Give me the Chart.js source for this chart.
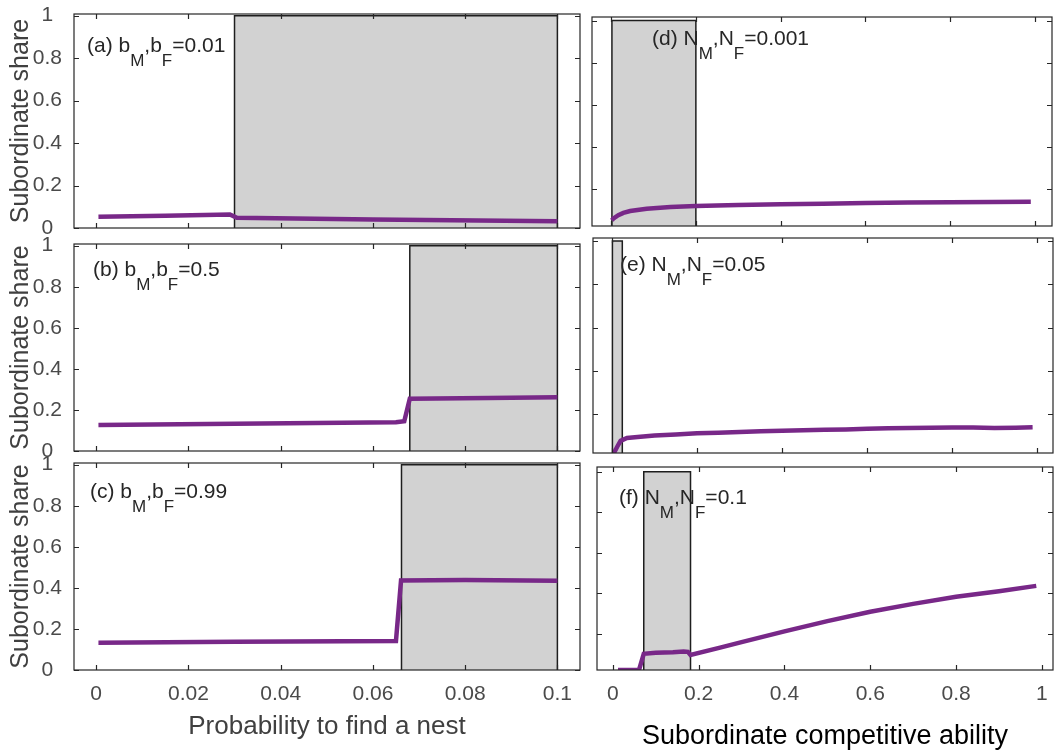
<!DOCTYPE html>
<html>
<head>
<meta charset="utf-8">
<script src="https://cdn.jsdelivr.net/npm/chart.js@4.4.1/dist/chart.umd.min.js"></script>
<style>
  html, body { margin: 0; padding: 0; background: #fff; overflow: hidden; }
  #wrap { position: relative; width: 1054px; height: 754px; overflow: hidden; }
  #wrap canvas { position: absolute; }
</style>
</head>
<body>
<div id="wrap"></div>
<script>
// subordinate share vs probability to find a nest (b_M = b_F fixed)
const nestProbA = [0.0005, 0.015, 0.029, 0.0305, 0.06, 0.1];
const shareA    = [0.053, 0.058, 0.064, 0.048, 0.040, 0.032];
const nestProbB = [0.0005, 0.03, 0.065, 0.0668, 0.068, 0.085, 0.1];
const shareB    = [0.127, 0.133, 0.140, 0.145, 0.255, 0.258, 0.262];
const nestProbC = [0.0005, 0.03, 0.065, 0.0661, 0.08, 0.1];
const shareC    = [0.133, 0.137, 0.141, 0.436, 0.438, 0.435];

// subordinate share vs subordinate competitive ability (N_M = N_F fixed)
const abilityD = [0.002, 0.005, 0.017, 0.029, 0.045, 0.084, 0.14, 0.2, 0.3, 0.4, 0.5, 0.6, 0.7, 0.8, 0.9, 0.99];
const shareD   = [0.053, 0.061, 0.077, 0.088, 0.097, 0.108, 0.116, 0.121, 0.126, 0.129, 0.132, 0.135, 0.137, 0.139, 0.140, 0.141];
const abilityE = [0.004, 0.012, 0.02, 0.035, 0.06, 0.1, 0.15, 0.2, 0.25, 0.3, 0.35, 0.4, 0.45, 0.5, 0.55, 0.6, 0.65, 0.7, 0.75, 0.8, 0.85, 0.9, 0.95, 0.99];
const shareE   = [0.02, 0.05, 0.077, 0.09, 0.095, 0.102, 0.107, 0.112, 0.115, 0.118, 0.121, 0.124, 0.126, 0.128, 0.130, 0.133, 0.135, 0.137, 0.138, 0.139, 0.139, 0.137, 0.138, 0.140];
const abilityF = [0.012, 0.061, 0.072, 0.1, 0.14, 0.165, 0.175, 0.181, 0.25, 0.3, 0.4, 0.5, 0.6, 0.7, 0.8, 0.9, 0.987];
const shareF   = [0.02, 0.02, 0.10, 0.105, 0.108, 0.112, 0.11, 0.094, 0.131, 0.158, 0.211, 0.262, 0.308, 0.347, 0.382, 0.41, 0.436];

// shaded ranges (a)..(f)
const shadeFrom = [0.03, 0.068, 0.0662, 0.002, 0.0007, 0.072];
const shadeTo   = [0.1, 0.1, 0.1, 0.2, 0.024, 0.181];
const shadeTop  = 1;

// panel tags
const panelTag   = ['(a)', '(b)', '(c)', '(d)', '(e)', '(f)'];
const paramName  = ['b', 'b', 'b', 'N', 'N', 'N'];
const paramValue = ['0.01', '0.5', '0.99', '0.001', '0.05', '0.1'];

// tick labels
const nestTicks    = [0, 0.02, 0.04, 0.06, 0.08, 0.1];
const abilityTicks = [0, 0.2, 0.4, 0.6, 0.8, 1];
const shareTicks   = [0, 0.2, 0.4, 0.6, 0.8, 1];

const seriesX = [nestProbA, nestProbB, nestProbC, abilityD, abilityE, abilityF];
const seriesY = [shareA, shareB, shareC, shareD, shareE, shareF];

// plot boxes [left, top, right, bottom], axis limits, tag offsets
const panels = [
  { box: [74, 14, 580, 228],   col: 0, last: false, xr: [-0.0048, 0.1049], yr: [0, 1.008],     tag: [13, 38] },
  { box: [74, 244, 580, 451],  col: 0, last: false, xr: [-0.0048, 0.1049], yr: [0, 1.008],     tag: [19, 32] },
  { box: [74, 463, 580, 670],  col: 0, last: true,  xr: [-0.0048, 0.1049], yr: [0, 1.008],     tag: [16, 35] },
  { box: [592, 17, 1052, 226], col: 1, last: false, xr: [-0.045, 1.04],    yr: [0.026, 1.017], tag: [60, 28] },
  { box: [593, 238, 1053, 453],col: 1, last: false, xr: [-0.045, 1.038],   yr: [0.021, 1.014], tag: [27, 33] },
  { box: [597, 467, 1053, 670],col: 1, last: true,  xr: [-0.037, 1.026],   yr: [0.02, 1.024],  tag: [22, 37] }
];

const FONT = "'Liberation Sans', Arial, Helvetica, sans-serif";
const PURPLE = 'rgb(120, 40, 136)';
const INK = '#262626';

// axes box, inward ticks on all four sides, panel tag
const framePlugin = {
  id: 'frame',
  afterDatasetsDraw(chart) {
    const { ctx, chartArea: a, scales: { x, y } } = chart;
    const i = chart.options.plugins.frame.index;
    const len = 5;
    ctx.save();
    ctx.strokeStyle = INK;
    ctx.lineWidth = 1.2;
    ctx.strokeRect(a.left, a.top, a.right - a.left, a.bottom - a.top);
    ctx.beginPath();
    x.ticks.forEach(t => {
      const px = Math.round(x.getPixelForValue(t.value)) + 0.5;
      ctx.moveTo(px, a.bottom); ctx.lineTo(px, a.bottom - len);
      ctx.moveTo(px, a.top); ctx.lineTo(px, a.top + len);
    });
    y.ticks.forEach(t => {
      const py = Math.round(y.getPixelForValue(t.value)) + 0.5;
      ctx.moveTo(a.left, py); ctx.lineTo(a.left + len, py);
      ctx.moveTo(a.right, py); ctx.lineTo(a.right - len, py);
    });
    ctx.stroke();

    // tag like "(a) b_M,b_F=0.01"
    const p = panels[i];
    let tx = a.left + p.tag[0];
    const base = a.top + p.tag[1];
    const parts = [
      [panelTag[i] + ' ' + paramName[i], false],
      ['M', true],
      [',' + paramName[i], false],
      ['F', true],
      ['=' + paramValue[i], false]
    ];
    ctx.fillStyle = INK;
    ctx.textAlign = 'left';
    ctx.textBaseline = 'alphabetic';
    parts.forEach(([t, sub]) => {
      ctx.font = (sub ? '17px ' : '21px ') + FONT;
      ctx.fillText(t, tx, sub ? base + 14 : base);
      tx += ctx.measureText(t).width;
    });
    ctx.restore();
  }
};

const wrap = document.getElementById('wrap');

panels.forEach((p, i) => {
  const [l, t, r, b] = p.box;
  const left = p.col === 0;
  const padL = left ? l : 8;
  const padT = left ? 28 : 16;
  const padR = 20;
  const padB = p.last ? 754 - b : (left ? 28 : 16);

  const cv = document.createElement('canvas');
  cv.width = (r - l) + padL + padR;
  cv.height = (b - t) + padT + padB;
  cv.style.left = (l - padL) + 'px';
  cv.style.top = (t - padT) + 'px';
  wrap.appendChild(cv);

  const xs = seriesX[i], ys = seriesY[i];
  const xTicks = left ? nestTicks : abilityTicks;

  new Chart(cv, {
    type: 'line',
    data: {
      datasets: [
        {
          data: xs.map((v, k) => ({ x: v, y: ys[k] })),
          borderColor: PURPLE,
          borderWidth: 4.5,
          pointRadius: 0,
          tension: 0,
          fill: false
        },
        {
          data: [
            { x: shadeFrom[i], y: 0 },
            { x: shadeFrom[i], y: shadeTop },
            { x: shadeTo[i], y: shadeTop },
            { x: shadeTo[i], y: 0 }
          ],
          borderColor: '#1e1e1e',
          borderWidth: 1.5,
          backgroundColor: '#d2d2d2',
          fill: 'origin',
          pointRadius: 0,
          tension: 0
        }
      ]
    },
    options: {
      responsive: false,
      animation: false,
      events: [],
      layout: { padding: { left: 0, top: padT, right: padR, bottom: 0 } },
      plugins: {
        legend: { display: false },
        tooltip: { enabled: false },
        frame: { index: i }
      },
      scales: {
        x: {
          type: 'linear',
          min: p.xr[0],
          max: p.xr[1],
          grid: { display: false, drawTicks: false },
          border: { display: false },
          afterBuildTicks: s => { s.ticks = xTicks.map(v => ({ value: v })); },
          afterFit: s => { s.height = padB; },
          ticks: {
            display: p.last,
            padding: 12,
            maxRotation: 0,
            autoSkip: false,
            color: '#4a4a4a',
            font: { family: FONT, size: 21 },
            callback: v => String(v)
          },
          title: {
            display: p.last,
            text: left ? 'Probability to find a nest' : 'Subordinate competitive ability',
            color: left ? '#404040' : '#000',
            font: { family: FONT, size: left ? 26 : 27 },
            padding: { top: 0, bottom: left ? 12 : 1 }
          }
        },
        y: {
          type: 'linear',
          min: p.yr[0],
          max: p.yr[1],
          grid: { display: false, drawTicks: false },
          border: { display: false },
          afterBuildTicks: s => {
            s.ticks = shareTicks.filter(v => v >= p.yr[0] && v <= p.yr[1]).map(v => ({ value: v }));
          },
          afterFit: s => { s.width = padL; },
          ticks: {
            display: left,
            padding: 12,
            crossAlign: 'center',
            color: '#4a4a4a',
            font: { family: FONT, size: 21 },
            callback: v => String(v)
          },
          title: {
            display: left,
            text: 'Subordinate share',
            color: '#404040',
            font: { family: FONT, size: 25 },
            padding: { top: 6, bottom: 0 }
          }
        }
      }
    },
    plugins: [framePlugin]
  });
});
</script>
</body>
</html>
